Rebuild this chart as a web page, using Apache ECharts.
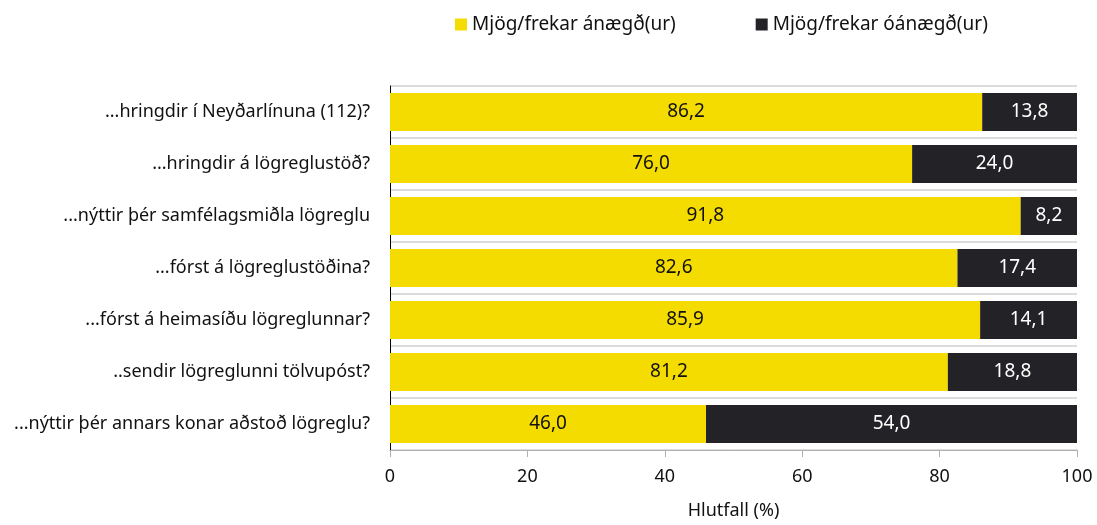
<!DOCTYPE html>
<html>
<head>
<meta charset="utf-8">
<script src="https://cdn.jsdelivr.net/npm/echarts@6/dist/echarts.min.js"></script>
<style>
  html, body { margin: 0; padding: 0; background: #fff; }
  #chart { width: 1097px; height: 525px; }
</style>
</head>
<body>
<div id="chart"></div>
<script>
var categories = [
  '...hringdir í Neyðarlínuna (112)?',
  '...hringdir á lögreglustöð?',
  '...nýttir þér samfélagsmiðla lögreglu',
  '...fórst á lögreglustöðina?',
  '...fórst á heimasíðu lögreglunnar?',
  '..sendir lögreglunni tölvupóst?',
  '...nýttir þér annars konar aðstoð lögreglu?'
];
var satisfied = [86.2, 76.0, 91.8, 82.6, 85.9, 81.2, 46.0];
var dissatisfied = [13.8, 24.0, 8.2, 17.4, 14.1, 18.8, 54.0];
var seriesNames = ['Mjög/frekar ánægð(ur)', 'Mjög/frekar óánægð(ur)'];

var font = 'Noto Sans';
var chart = echarts.init(document.getElementById('chart'));

function fmt(p) {
  return p.value.toFixed(1).replace('.', ',');
}

var option = {
  animation: false,
  textStyle: { fontFamily: font },
  legend: {
    top: 10,
    left: 450,
    itemWidth: 12,
    itemHeight: 12,
    itemGap: 80,
    itemTextGap: 4,
    icon: 'rect',
    textStyle: { fontSize: 19, color: '#111', fontFamily: font },
    data: seriesNames
  },
  grid: { left: 390, right: 20, top: 86, bottom: 73 },
  xAxis: {
    type: 'value',
    min: 0,
    max: 100,
    interval: 20,
    name: 'Hlutfall (%)',
    nameLocation: 'middle',
    nameGap: 52,
    nameTextStyle: { fontSize: 18, color: '#111' },
    axisLine: { show: true, lineStyle: { color: '#b0b0b0' } },
    axisTick: { show: true, length: 7, lineStyle: { color: '#b0b0b0' } },
    axisLabel: { fontSize: 18, color: '#111', margin: 18 },
    splitLine: { show: false }
  },
  yAxis: {
    type: 'category',
    inverse: true,
    data: categories,
    axisLine: { show: true, lineStyle: { color: '#000' } },
    axisTick: { show: false },
    axisLabel: { fontSize: 18, color: '#111', margin: 20 },
    splitLine: { show: true, lineStyle: { color: '#dcdcdc', width: 2 } }
  },
  series: [
    {
      name: seriesNames[0],
      type: 'bar',
      stack: 'total',
      barWidth: '73%',
      data: satisfied,
      itemStyle: { color: '#f5dc00' },
      label: { show: true, position: 'inside', fontSize: 19, color: '#111', formatter: fmt }
    },
    {
      name: seriesNames[1],
      type: 'bar',
      stack: 'total',
      data: dissatisfied,
      itemStyle: { color: '#232226' },
      label: { show: true, position: 'inside', fontSize: 19, color: '#fff', formatter: fmt }
    }
  ]
};
chart.setOption(option);
window.addEventListener('resize', function () {
  chart.resize();
});
</script>
</body>
</html>
